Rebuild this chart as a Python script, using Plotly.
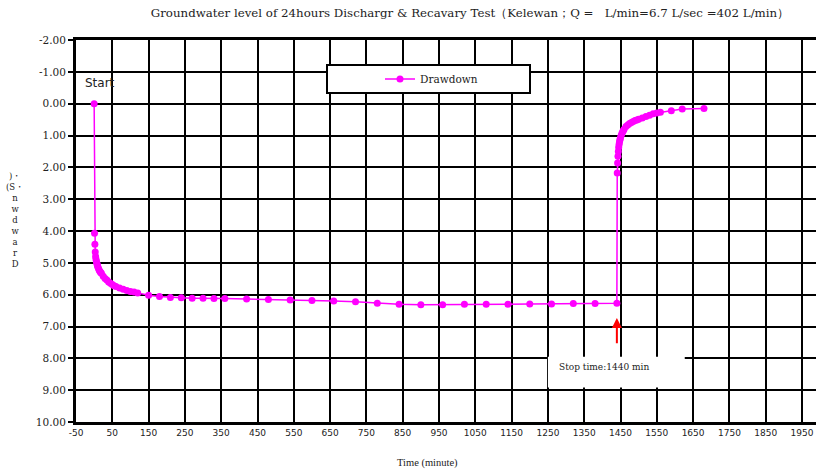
import plotly.graph_objects as go

# ---- data ----
time_pump = [0, 1, 2, 3, 4, 5, 6, 7, 8, 9, 10, 12, 14, 16, 18, 20, 25, 30, 35, 40, 45, 50, 55, 60,
             70, 80, 90, 100, 110, 120, 150, 180, 210, 240, 270, 300, 330, 360, 420, 480, 540, 600,
             660, 720, 780, 840, 900, 960, 1020, 1080, 1140, 1200, 1260, 1320, 1380, 1440]
draw_pump = [0.00, 4.07, 4.42, 4.66, 4.80, 4.88, 4.94, 4.99, 5.04, 5.08, 5.12, 5.18, 5.23, 5.27,
             5.30, 5.33, 5.42, 5.49, 5.54, 5.60, 5.64, 5.68, 5.72, 5.74, 5.79, 5.83, 5.87, 5.90,
             5.92, 5.95, 6.02, 6.06, 6.09, 6.10, 6.11, 6.11, 6.12, 6.12, 6.14, 6.15, 6.17, 6.18,
             6.20, 6.22, 6.27, 6.30, 6.32, 6.32, 6.30, 6.30, 6.30, 6.29, 6.29, 6.28, 6.28, 6.27]
time_recov = [1441, 1442, 1443, 1444, 1445, 1446, 1447, 1448, 1449, 1450, 1452, 1454, 1456, 1458,
              1460, 1465, 1470, 1475, 1480, 1485, 1490, 1495, 1500, 1510, 1520, 1530, 1540, 1550,
              1560, 1590, 1620, 1680]
draw_recov = [2.18, 1.86, 1.65, 1.50, 1.38, 1.29, 1.22, 1.16, 1.11, 1.06, 0.99, 0.93, 0.88, 0.84,
              0.80, 0.72, 0.67, 0.62, 0.59, 0.56, 0.53, 0.51, 0.49, 0.45, 0.40, 0.36, 0.32, 0.29,
              0.27, 0.22, 0.17, 0.15]

x_ticks = [-50, 50, 150, 250, 350, 450, 550, 650, 750, 850, 950, 1050, 1150, 1250, 1350, 1450,
           1550, 1650, 1750, 1850, 1950]
y_ticks = [-2, -1, 0, 1, 2, 3, 4, 5, 6, 7, 8, 9, 10]

series_name = "Drawdown"
title_text = "Groundwater level of 24hours Dischargr & Recavary Test（Kelewan；Q =   L/min=6.7 L/sec =402 L/min）"
x_title = "Time (minute)"
y_title_stack = ")・<br>(S・<br>n<br>w<br>d<br>w<br>a<br>r<br>D"
stop_time = 1440

times = time_pump + time_recov
draws = draw_pump + draw_recov

serif = "DejaVu Serif, Liberation Serif, serif"

fig = go.Figure()
fig.add_trace(go.Scatter(
    x=times, y=draws, mode="lines+markers", name=series_name,
    line=dict(color="#FF00FF", width=1.5),
    marker=dict(color="#FF00FF", size=7),
))

L, T, B = 76, 40, 54
W, H = 816, 476
pw, ph = W - L, H - T - B

def px(xp):
    return (xp - L) / pw

def py(yp):
    return (H - B - yp) / ph

x_max = -50 + pw / 0.363

fig.update_layout(
    width=W, height=H,
    margin=dict(l=L, r=0, t=T, b=B),
    paper_bgcolor="white", plot_bgcolor="white",
    title=dict(text=title_text, x=470 / W, xref="container", xanchor="center",
               y=1 - 13 / H, yref="container", yanchor="middle",
               font=dict(family=serif, size=11.8, color="#222")),
    showlegend=True,
    legend=dict(x=px(380), y=py(79), xanchor="left", yanchor="middle",
                bgcolor="rgba(0,0,0,0)", borderwidth=0,
                font=dict(family=serif, size=10.5, color="#222")),
    xaxis=dict(range=[-50, x_max], tickmode="array", tickvals=x_ticks,
               ticktext=[str(v) for v in x_ticks], showgrid=True, automargin=False,
               gridcolor="black", gridwidth=2, zeroline=False,
               showline=True, linecolor="black", linewidth=3, mirror=True,
               ticks="", tickfont=dict(family="DejaVu Sans, sans-serif", size=9, color="#222")),
    yaxis=dict(range=[10, -2], tickmode="array", tickvals=y_ticks,
               ticktext=["%.2f" % v for v in y_ticks], showgrid=True, automargin=False,
               gridcolor="black", gridwidth=2, zeroline=False,
               showline=True, linecolor="black", linewidth=3, mirror=True,
               ticks="outside", ticklen=5, tickwidth=2, tickcolor="black",
               tickfont=dict(family=serif, size=10.5, color="#222")),
    shapes=[
        dict(type="rect", xref="paper", yref="paper", x0=px(327), x1=px(530), y0=py(93), y1=py(65),
             fillcolor="white", line=dict(color="black", width=2), layer="above"),
        dict(type="rect", xref="x", yref="y", x0=1250, x1=1627, y0=7.95, y1=8.92,
             fillcolor="white", line=dict(width=0), layer="above"),
    ],
    annotations=[
        dict(text="Start", x=-32, y=-0.65, xref="x", yref="y", xanchor="left", yanchor="middle",
             showarrow=False, font=dict(family="DejaVu Sans, sans-serif", size=12, color="#222")),
        dict(text="Stop time:%d min" % stop_time, x=1275, y=8.27, xref="x", yref="y",
             xanchor="left", yanchor="middle", showarrow=False,
             font=dict(family=serif, size=9, color="#222")),
        dict(text="", x=stop_time, y=6.73, xref="x", yref="y", ax=stop_time, ay=7.57,
             axref="x", ayref="y", showarrow=True, arrowhead=2, arrowsize=1, arrowwidth=2,
             arrowcolor="red"),
        dict(text=x_title, x=px(427), y=py(463), xref="paper", yref="paper",
             xanchor="center", yanchor="middle", showarrow=False,
             font=dict(family="Liberation Serif, serif", size=10.5, color="#222")),
        dict(text=y_title_stack, x=px(15), y=py(220), xref="paper", yref="paper",
             xanchor="center", yanchor="middle", showarrow=False,
             font=dict(family=serif, size=8.5, color="#222")),
    ],
)

fig.write_html("out.html", config={"displayModeBar": False},
               post_script="document.body.style.margin='0';")
